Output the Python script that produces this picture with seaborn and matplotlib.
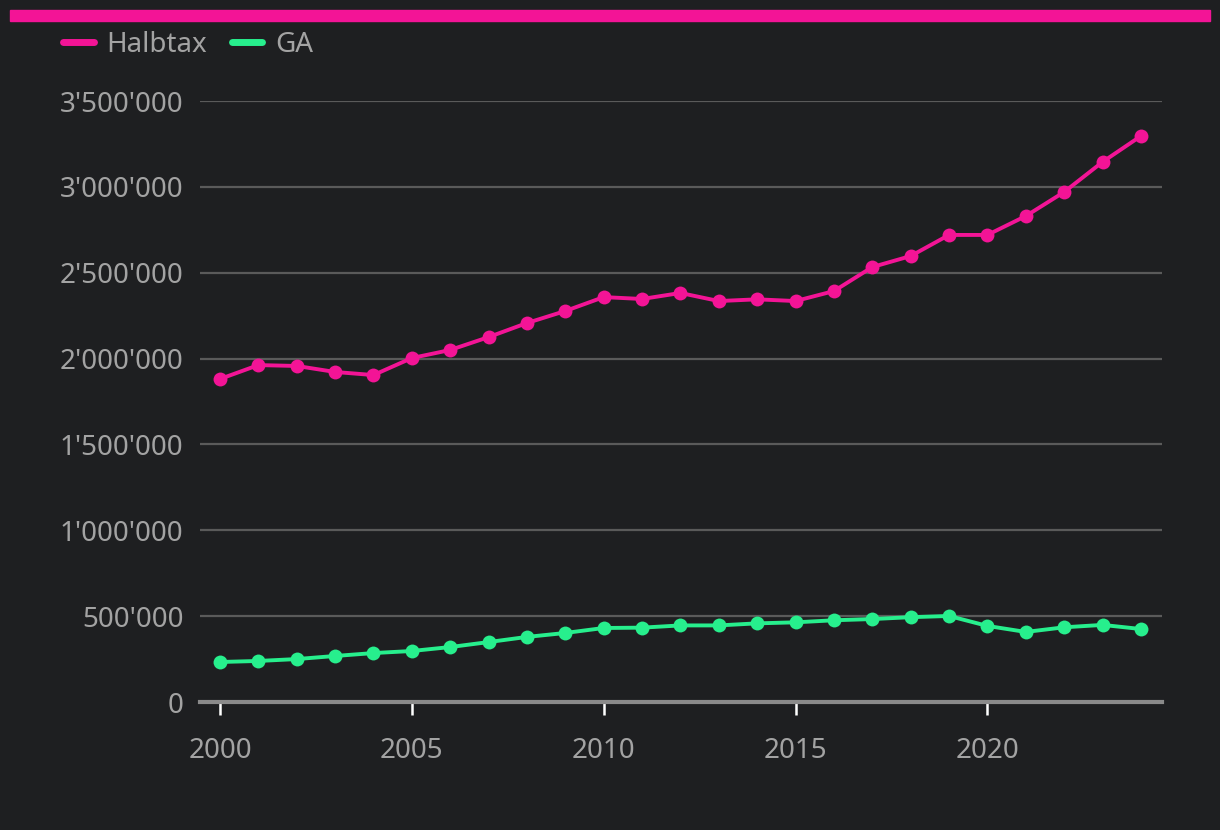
import matplotlib
matplotlib.use("Agg")
import matplotlib.pyplot as plt
import seaborn as sns
import pandas as pd
from matplotlib.lines import Line2D
from matplotlib.patches import Rectangle
from matplotlib.ticker import FuncFormatter

years = list(range(2000, 2025))
halbtax = [1881000, 1962000, 1957000, 1922000, 1904000, 2003000, 2050000, 2125000,
           2207000, 2277000, 2358000, 2347000, 2382000, 2335000, 2345000, 2335000,
           2393000, 2533000, 2597000, 2720000, 2720000, 2830000, 2970000, 3145000, 3296000]
ga = [233000, 239000, 250000, 268000, 285000, 297000, 320000, 349000, 379000, 402000,
      431000, 433000, 446000, 446000, 458000, 464000, 476000, 483000, 494000, 501000,
      443000, 408000, 435000, 449000, 425000]
series_names = ["Halbtax", "GA"]
colors = ["#f31496", "#27ef8d"]
yticks = [0, 500000, 1000000, 1500000, 2000000, 2500000, 3000000, 3500000]
xticks = [2000, 2005, 2010, 2015, 2020]

df = pd.DataFrame({
    "Jahr": years * 2,
    "Wert": halbtax + ga,
    "Abo": [series_names[0]] * len(years) + [series_names[1]] * len(years),
})

sns.set_theme(style="dark")
plt.rcParams["font.family"] = ["Noto Sans", "DejaVu Sans"]
bg = "#1e1f21"
txt = "#a3a3a3"

fig = plt.figure(figsize=(12.2, 8.3), dpi=100, facecolor=bg)
ax = fig.add_axes([200/1220, 1-702/830, 962/1220, 601/830])
ax.set_facecolor(bg)

sns.lineplot(data=df, x="Jahr", y="Wert", hue="Abo", palette=colors,
             marker="o", markersize=10, markeredgewidth=0, linewidth=2.8,
             ax=ax, legend=False, zorder=3)
for l in ax.lines:
    l.set_clip_on(False)

ax.set_xlim(1999.48, 2024.55)
ax.set_ylim(0, 3500000)
ax.set_yticks(yticks)
ax.set_xticks(xticks)
ax.yaxis.set_major_formatter(FuncFormatter(lambda v, p: f"{int(v):,}".replace(",", "'")))
ax.grid(axis="y", color="#5a5a5a", linewidth=1.6)
ax.grid(axis="x", visible=False)
for s in ["top", "right", "left"]:
    ax.spines[s].set_visible(False)
ax.spines["bottom"].set_color("#8a8a8a")
ax.spines["bottom"].set_linewidth(3)
ax.spines["bottom"].set_zorder(2)
ax.tick_params(axis="y", left=False, length=0, pad=12, labelsize=20, labelcolor=txt)
ax.tick_params(axis="x", bottom=True, length=9, width=1.8, color="#ffffff", pad=16,
               labelsize=20, labelcolor=txt, direction="out")
ax.set_xlabel("")
ax.set_ylabel("")

fig.patches.append(Rectangle((10/1220, 1-21/830), 1200/1220, 11/830,
                             transform=fig.transFigure, color=colors[0], zorder=5))

handles = [Line2D([0], [0], color=c, lw=5, solid_capstyle="round") for c in colors]
leg = fig.legend(handles, series_names, loc="center left",
                 bbox_to_anchor=(38/1220, 1-45/830), frameon=False, ncol=2,
                 fontsize=20, handlelength=1.1, handletextpad=0.45, columnspacing=0.9,
                 labelcolor=txt)

fig.savefig("out.png", dpi=100, facecolor=bg)
